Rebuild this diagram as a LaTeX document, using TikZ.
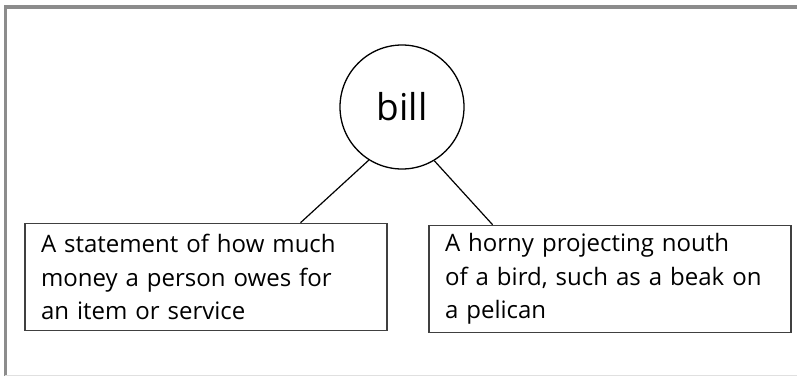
\documentclass[tikz,border=0pt]{standalone}
\usepackage{fontspec}
\setmainfont{Open Sans}
\usetikzlibrary{calc}
\tikzset{
	word/.style={draw, circle, line width=1.3pt, minimum size=124pt, inner sep=0pt, font=\fontsize{37}{40}\selectfont},
	meaning/.style={draw=black!75, line width=1.6pt, minimum width=362pt, minimum height=107pt, text width=330pt, align=left, inner sep=0pt, font=\fontsize{24}{33.5}\selectfont},
}
\begin{document}
	\begin{tikzpicture}[x=1pt, y=1pt]
		\useasboundingbox (0,0) rectangle (797,376);
		\draw[black!45, line width=3pt] (5,0) -- (5,369) -- (797,369);
		\draw[black!12, line width=1pt] (5,1) -- (797,1);
		
		\node[word] (bill) at (402,269) {bill};
		\node[meaning] (money) at (206,99) {A statement of how much\\money a person owes for\\an item or service};
		\node[meaning] (beak) at (610,97) {A horny projecting nouth\\of a bird, such as a beak on\\a pelican};
		
		\draw[line width=1.2pt] (bill.238) -- ($(money.north west)!0.76!(money.north east)$);
		\draw[line width=1.2pt] (bill.301) -- ($(beak.north west)!0.177!(beak.north east)$);
	\end{tikzpicture}
\end{document}
